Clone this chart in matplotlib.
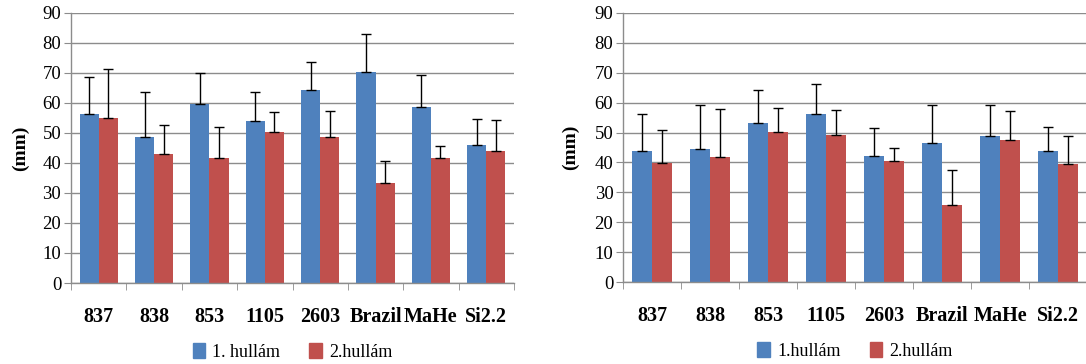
import numpy as np
import matplotlib
matplotlib.use('Agg')
import matplotlib.pyplot as plt
from matplotlib.patches import Patch

categories = ['837', '838', '853', '1105', '2603', 'Brazil', 'MaHe', 'Si2.2']

# left chart
left_wave1 = [56.3, 48.5, 59.7, 53.8, 64.4, 70.4, 58.7, 46.1]
left_wave1_top = [68.6, 63.5, 69.9, 63.5, 73.5, 83.0, 69.2, 54.5]
left_wave2 = [54.8, 43.1, 41.5, 50.4, 48.5, 33.2, 41.5, 44.1]
left_wave2_top = [71.2, 52.5, 51.8, 57.0, 57.3, 40.7, 45.6, 54.3]
left_legend = ['1. hullám', '2.hullám']

# right chart
right_wave1 = [43.9, 44.6, 53.2, 56.2, 42.2, 46.6, 48.9, 43.9]
right_wave1_top = [56.1, 59.2, 64.1, 66.1, 51.4, 59.2, 59.2, 52.0]
right_wave2 = [39.9, 41.9, 50.2, 49.2, 40.6, 25.9, 47.6, 39.6]
right_wave2_top = [50.9, 57.9, 58.2, 57.6, 44.7, 37.4, 57.2, 48.7]
right_legend = ['1.hullám', '2.hullám']

yticks = list(range(0, 100, 10))

BLUE = '#4F81BD'
RED = '#C0504D'
GRID = '#8c8c8c'
SERIF = 'Liberation Serif'


def draw_panel(ax, w1, w1_top, w2, w2_top, legend_labels):
    x = np.arange(len(categories))
    bw = 0.345
    for vals, tops, off, col in [(w1, w1_top, -bw / 2, BLUE), (w2, w2_top, bw / 2, RED)]:
        vals = np.array(vals)
        tops = np.array(tops)
        ax.bar(x + off, vals, width=bw, color=col, zorder=2)
        err = np.vstack([np.zeros_like(vals), tops - vals])
        ax.errorbar(x + off, vals, yerr=err, fmt='none', ecolor='black',
                    elinewidth=1, capsize=3.5, capthick=1, zorder=3)

    ax.set_xlim(-0.5, len(categories) - 0.5)
    ax.set_ylim(0, 90)
    ax.set_yticks(yticks)
    ax.set_yticklabels([str(t) for t in yticks], fontfamily=SERIF, fontsize=13.5)
    ax.yaxis.grid(True, color=GRID, linewidth=1, zorder=0)
    ax.set_axisbelow(True)

    ax.set_xticks(x)
    ax.set_xticklabels(categories, fontfamily=SERIF, fontsize=14.5, fontweight='bold')
    ax.set_xticks(np.arange(-0.5, len(categories)), minor=True)
    ax.tick_params(axis='x', which='major', length=0, pad=17)
    ax.tick_params(axis='x', which='minor', length=5, color=GRID, direction='out')
    ax.tick_params(axis='y', length=5, color=GRID, pad=2)

    for side in ['top', 'right']:
        ax.spines[side].set_visible(False)
    for side in ['left', 'bottom']:
        ax.spines[side].set_color(GRID)
        ax.spines[side].set_linewidth(1)

    ax.set_ylabel('(mm)', fontfamily=SERIF, fontsize=14, fontweight='bold')
    ax.yaxis.set_label_coords(-0.095, 0.5)

    handles = [Patch(color=BLUE), Patch(color=RED)]
    ax.legend(handles, legend_labels, loc='center', bbox_to_anchor=(0.5, -0.255),
              ncol=2, frameon=False, handlelength=0.7, handleheight=0.9,
              handletextpad=0.4, columnspacing=1.6,
              prop={'family': SERIF, 'size': 13})


fig = plt.figure(figsize=(10.86, 3.64), dpi=100)
ax1 = fig.add_axes([0.0654, 0.2225, 0.4079, 0.7426])
ax2 = fig.add_axes([0.5737, 0.2245, 0.4273, 0.7406])

draw_panel(ax1, left_wave1, left_wave1_top, left_wave2, left_wave2_top, left_legend)
draw_panel(ax2, right_wave1, right_wave1_top, right_wave2, right_wave2_top, right_legend)

fig.savefig('out.png', dpi=100)
